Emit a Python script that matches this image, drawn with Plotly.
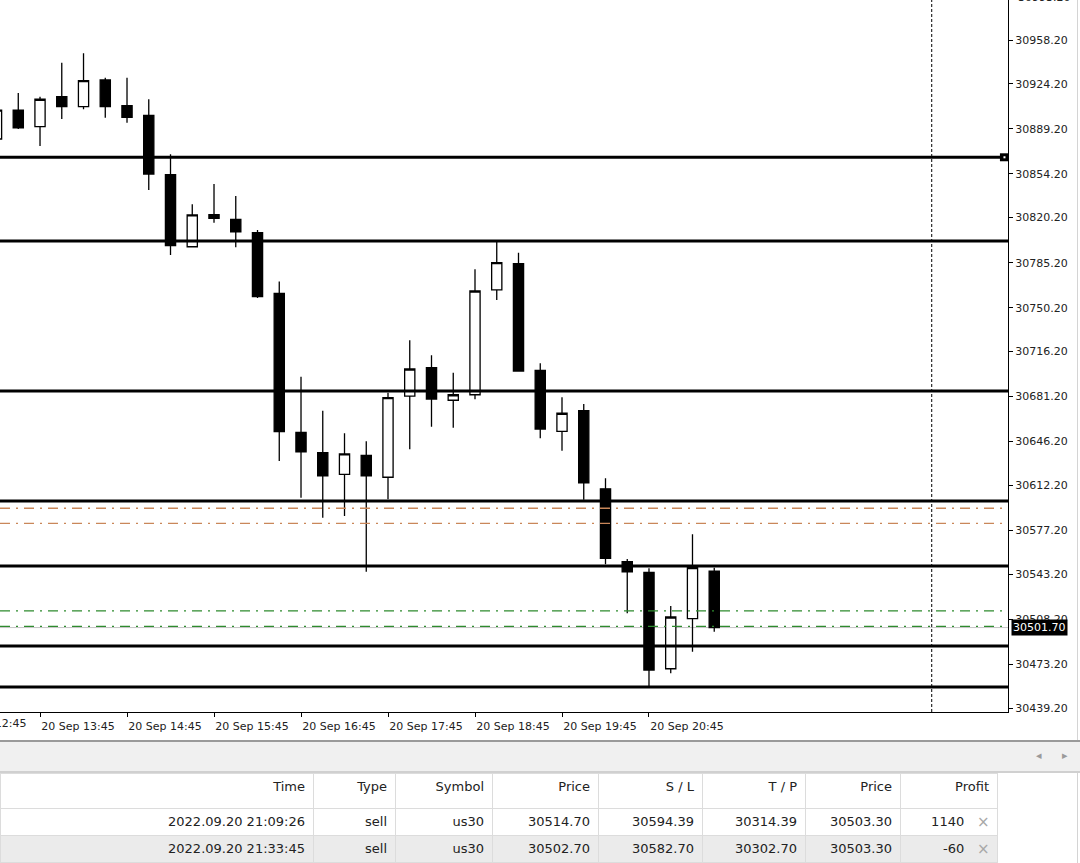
import plotly.graph_objects as go
import pandas as pd

# us30, M15 candles on 20 Sep 2022
opens = [30881.3, 30903.8, 30890.9, 30914.2, 30906.4, 30927.2, 30907.2, 30899.7,
         30853.6, 30797.6, 30822.5, 30818.9, 30808.5, 30761.4, 30653.4, 30637.6,
         30620.8, 30635.5, 30618.5, 30681.6, 30703.6, 30678.3, 30682.6, 30764.0,
         30784.4, 30701.6, 30654.2, 30670.2, 30609.5, 30552.9, 30544.6, 30469.7,
         30508.6, 30545.6]
highs = [30907.7, 30917.1, 30914.2, 30940.6, 30947.9, 30928.9, 30928.9, 30912.2,
         30869.4, 30830.6, 30846.3, 30837.0, 30810.6, 30770.6, 30696.6, 30670.2,
         30652.6, 30646.4, 30684.2, 30724.9, 30713.2, 30699.7, 30780.1, 30801.3,
         30793.0, 30707.0, 30680.6, 30675.4, 30617.7, 30555.0, 30547.7, 30518.5,
         30574.2, 30548.2]
lows = [30879.8, 30889.1, 30875.9, 30896.9, 30904.4, 30897.9, 30894.0, 30841.7,
        30791.2, 30797.0, 30816.3, 30797.2, 30757.8, 30631.1, 30602.6, 30587.1,
        30588.4, 30545.1, 30601.4, 30640.2, 30657.8, 30657.0, 30679.1, 30756.2,
        30700.6, 30648.8, 30639.1, 30601.1, 30550.9, 30512.8, 30456.3, 30466.2,
        30482.9, 30498.5]
closes = [30903.8, 30889.9, 30912.2, 30906.4, 30926.6, 30906.4, 30898.2, 30854.1,
          30798.4, 30822.3, 30819.7, 30809.1, 30758.8, 30653.9, 30638.3, 30619.5,
          30636.6, 30619.5, 30680.3, 30702.6, 30679.3, 30682.6, 30763.2, 30785.2,
          30701.0, 30656.0, 30668.2, 30614.2, 30555.5, 30544.9, 30468.7, 30509.9,
          30548.2, 30501.7]
times = pd.date_range("2022-09-20 13:15", periods=len(opens), freq="15min")
hour_ticks = times[2::4]  # 13:45 ... 20:45

# horizontal levels drawn on the chart
levels = [30867.1, 30802.1, 30685.5, 30600.0, 30549.5, 30487.4, 30455.5]

price_ticks = [30439.2, 30473.2, 30508.2, 30543.2, 30577.2, 30612.2, 30646.2, 30681.2,
               30716.2, 30750.2, 30785.2, 30820.2, 30854.2, 30889.2, 30924.2, 30958.2]

# open trades
trade_time = ["2022.09.20 21:09:26", "2022.09.20 21:33:45"]
trade_type = ["sell", "sell"]
trade_symbol = ["us30", "us30"]
trade_open = [30514.70, 30502.70]
trade_sl = [30594.39, 30582.70]
trade_tp = [30314.39, 30302.70]
trade_price = [30503.30, 30503.30]
trade_profit = [1140, -60]

day_sep = "2022-09-21 00:00"

W, H = 1080, 863
axis_font = dict(family="DejaVu Sans", size=11, color="#222")
table_font = dict(family="DejaVu Sans", size=13, color="#222")

fig = go.Figure()

fig.add_trace(go.Candlestick(
    x=times, open=opens, high=highs, low=lows, close=closes,
    increasing=dict(fillcolor="white", line=dict(color="black", width=1.3)),
    decreasing=dict(fillcolor="black", line=dict(color="black", width=1.3)),
    showlegend=False, hoverinfo="skip",
))

# bid line
fig.add_hline(y=closes[-1], line=dict(color="#c4c4c4", width=1), layer="below")

for lv in levels:
    fig.add_hline(y=lv, line=dict(color="black", width=3))

for p in trade_sl:
    fig.add_hline(y=p, line=dict(color="#c9875a", width=1.3, dash="10px,6px,2px,6px"))
for p in trade_open:
    fig.add_hline(y=p, line=dict(color="#2e8b2e", width=1.3, dash="10px,6px,2px,6px"))

fig.add_vline(x=day_sep, line=dict(color="black", width=1, dash="3px,2px"))

# selected-object handle at the right end of the top level
fig.add_shape(type="rect", xref="x domain", yref="y", x0=0.992, x1=1.0,
              y0=levels[0] - 3.1, y1=levels[0] + 3.1,
              fillcolor="black", line=dict(width=0))
fig.add_shape(type="rect", xref="x domain", yref="y", x0=0.9955, x1=0.9975,
              y0=levels[0] - 0.8, y1=levels[0] + 0.8,
              fillcolor="white", line=dict(width=0))

# current price tag
fig.add_annotation(x=1.003, xref="x domain", y=closes[-1], yref="y",
                   text=f"{closes[-1]:.2f}", showarrow=False, xanchor="left",
                   bgcolor="black", font=dict(family="DejaVu Sans", size=11, color="white"),
                   borderpad=1)

# labels cut by the window edges
fig.add_annotation(x=28 / W, y=(H - 723) / H, xref="paper", yref="paper",
                   text=hour_ticks[0].strftime("%d %b ") + "12:45", showarrow=False,
                   xanchor="right", yanchor="middle", font=axis_font)
fig.add_annotation(x=1016 / W, y=(H + 3) / H, xref="paper", yref="paper",
                   text=f"{price_ticks[-1] + 35:.2f}", showarrow=False,
                   xanchor="left", yanchor="middle", font=axis_font)

# window frame + panel strip between chart and terminal table
fig.add_shape(type="line", xref="paper", yref="paper", x0=1077.5 / W, x1=1077.5 / W,
              y0=(H - 740) / H, y1=1, line=dict(color="#d4d4d4", width=1))
fig.add_shape(type="line", xref="paper", yref="paper", x0=1077.5 / W, x1=1077.5 / W,
              y0=0, y1=(H - 772) / H, line=dict(color="#d4d4d4", width=1))
fig.add_shape(type="rect", xref="paper", yref="paper", x0=0, x1=1,
              y0=(H - 771) / H, y1=(H - 742) / H, fillcolor="#f0f0f0",
              line=dict(width=0), layer="below")
fig.add_shape(type="line", xref="paper", yref="paper", x0=0, x1=1,
              y0=(H - 741) / H, y1=(H - 741) / H, line=dict(color="#9a9a9a", width=2))
fig.add_shape(type="line", xref="paper", yref="paper", x0=0, x1=1,
              y0=(H - 772) / H, y1=(H - 772) / H, line=dict(color="#d0d0d0", width=2))
for xx, ch in [(1039, "◂"), (1065, "▸")]:
    fig.add_annotation(x=xx / W, y=(H - 754) / H, xref="paper", yref="paper",
                       text=ch, showarrow=False, xanchor="center", yanchor="middle",
                       font=dict(size=11, color="#9a9a9a"))

fig.add_trace(go.Table(
    domain=dict(x=[0, 997 / W], y=[0, (H - 773) / H]),
    columnwidth=[313, 82, 97, 106, 104, 103, 95, 97],
    header=dict(
        values=["Time", "Type", "Symbol", "Price", "S / L", "T / P", "Price", "Profit"],
        align="right", height=35, fill_color="white",
        line=dict(color="#dcdcdc", width=1), font=table_font,
    ),
    cells=dict(
        values=[trade_time, trade_type, trade_symbol,
                [f"{v:.2f}" for v in trade_open], [f"{v:.2f}" for v in trade_sl],
                [f"{v:.2f}" for v in trade_tp], [f"{v:.2f}" for v in trade_price],
                [f"{v}" + "\u00a0" * 6 for v in trade_profit]],
        align="right", height=27,
        fill_color=[["white", "#ebebeb"]] * 8,
        line=dict(color="#dcdcdc", width=1), font=table_font,
    ),
))

# close buttons in the profit column
for i in range(len(trade_profit)):
    fig.add_annotation(x=983 / W, y=(H - 822 - 27 * i) / H, xref="paper", yref="paper",
                       text="×", showarrow=False, xanchor="center", yanchor="middle",
                       font=dict(family="DejaVu Sans", size=15, color="#a8a8a8"))

fig.update_layout(
    width=W, height=H,
    margin=dict(l=0, r=0, t=0, b=0, autoexpand=False),
    paper_bgcolor="white", plot_bgcolor="white",
    boxgap=0.33,
    showlegend=False,
    xaxis=dict(
        type="date", domain=[0, 1008 / W],
        range=["2022-09-20 13:17:24", "2022-09-21 00:52:36"],
        rangeslider=dict(visible=False),
        showgrid=False, zeroline=False,
        showline=True, linecolor="black", linewidth=1,
        ticks="outside", ticklen=4, tickcolor="black",
        tickvals=hour_ticks, ticktext=[t.strftime("%d %b %H:%M") for t in hour_ticks],
        ticklabelshift=38, tickfont=axis_font,
    ),
    yaxis=dict(
        side="right", domain=[(H - 712) / H, 1],
        range=[30436.1, 30989.3],
        showgrid=False, zeroline=False,
        showline=True, linecolor="black", linewidth=1,
        ticks="outside", ticklen=4, tickcolor="black",
        tickvals=price_ticks, tickformat=".2f", tickfont=axis_font,
    ),
)

fig.write_html("out.html", config={"displayModeBar": False},
               post_script="document.body.style.margin='0';")
